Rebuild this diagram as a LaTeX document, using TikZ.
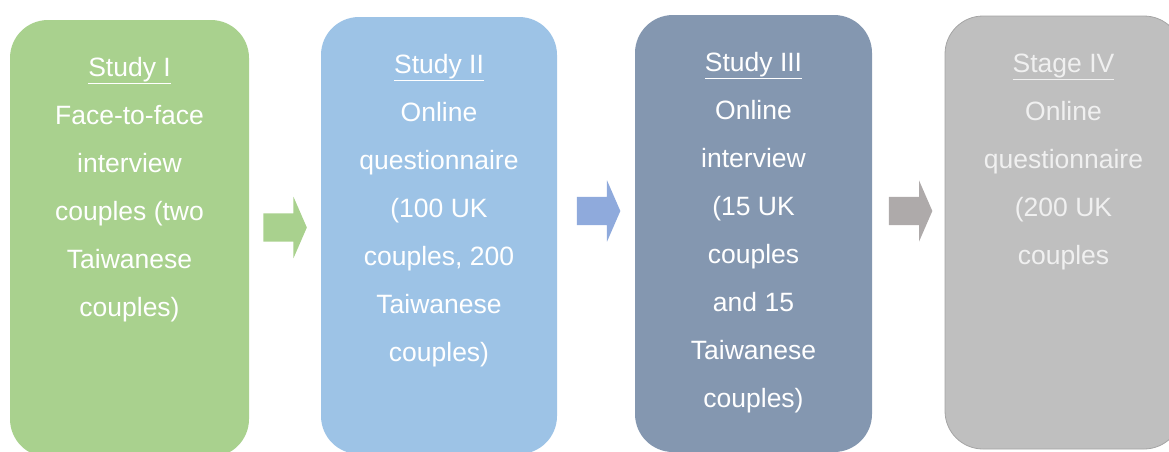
\documentclass[tikz,border=0pt]{standalone}
\usepackage{fontspec}
\setmainfont{Liberation Sans}
\usetikzlibrary{positioning,shapes.arrows}
\definecolor{studyone}{HTML}{A9D18E}
\definecolor{studytwo}{HTML}{9DC3E6}
\definecolor{studythree}{HTML}{8497B0}
\definecolor{stagefour}{HTML}{BFBFBF}
\definecolor{stageline}{HTML}{A5A5A5}
\definecolor{stagefont}{HTML}{F0F0F0}
\definecolor{arrowtwo}{HTML}{8FAADC}
\definecolor{arrowthree}{HTML}{AEAAAA}

\tikzset{
  stagebox/.style={rectangle, rounded corners=38pt, minimum width=237pt,
    minimum height=437pt, inner sep=0pt},
  stagetext/.style={anchor=north, align=center, text=white, inner sep=0pt,
    font=\fontsize{26.5}{48}\selectfont},
  blockarrow/.style={single arrow, inner xsep=0pt, inner ysep=14pt,
    minimum height=43.5pt, minimum width=61pt,
    single arrow head extend=16.5pt, single arrow tip angle=133}
}

\begin{document}
\begin{tikzpicture}[x=1pt, y=-1pt]
        \useasboundingbox (0,0) rectangle (1169,451);
        \clip (0,0) rectangle (1169,451);

        % the four stages
        \node[stagebox, fill=studyone, minimum width=239pt] (s1) at (129.5, 238.5) {};
        \node[stagebox, fill=studytwo, minimum width=236pt] (s2) at (439, 235.5) {};
        \node[stagebox, fill=studythree] (s3) at (753.5, 233.5) {};
        \node[stagebox, fill=stagefour, draw=stageline, line width=0.8pt,
              minimum height=433pt] (s4) at (1063.5, 232.5) {};

        \node[stagetext, below=23pt of s1.north] (t1)
            {\strut\underline{Study I}\\Face-to-face\\interview\\couples (two\\Taiwanese\\couples)};
        \node[stagetext, below=23pt of s2.north] (t2)
            {\strut\underline{Study II}\\Online\\questionnaire\\(100 UK\\couples, 200\\Taiwanese\\couples)};
        \node[stagetext, below=23pt of s3.north] (t3)
            {\strut\underline{Study III}\\Online\\interview\\(15 UK\\couples\\and 15\\Taiwanese\\couples)};
        \node[stagetext, text=stagefont, below=23pt of s4.north] (t4)
            {\strut\underline{Stage IV}\\Online\\questionnaire\\(200 UK\\couples};

        % arrows between stages
        \node[blockarrow, fill=studyone] (a1) at (282, 227.5) {};
        \node[blockarrow, fill=arrowtwo] (a2) at (595.5, 211) {};
        \node[blockarrow, fill=arrowthree] (a3) at (907.5, 211) {};
    \end{tikzpicture}
\end{document}
